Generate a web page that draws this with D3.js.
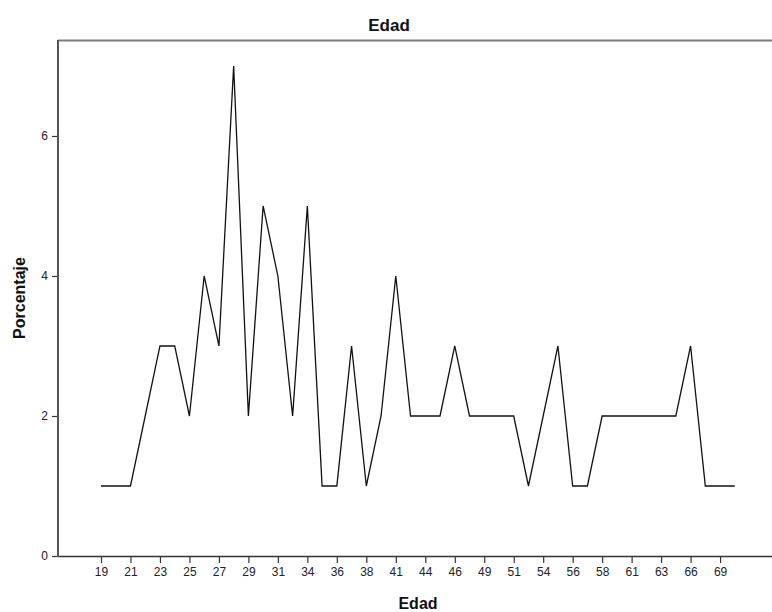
<!DOCTYPE html>
<html>
<head>
<meta charset="utf-8">
<script src="https://cdn.jsdelivr.net/npm/d3@7"></script>
<style>
  html, body { margin: 0; padding: 0; background: #fff; }
  svg { display: block; font-family: "Liberation Sans", Arial, sans-serif; }
</style>
</head>
<body>
<svg id="chart" width="772" height="612"></svg>
<script>
// Ages present in the data (categorical x axis)
const ages = [19,20,21,22,23,24,25,26,27,28,29,30,31,33,34,35,36,37,38,40,41,43,44,45,46,48,49,50,51,53,54,55,56,57,58,60,61,62,63,65,66,68,69,70];
// Percentage for each age
const percents = [1,1,1,2,3,3,2,4,3,7,2,5,4,2,5,1,1,3,1,2,4,2,2,2,3,2,2,2,2,1,2,3,1,1,2,2,2,2,2,2,3,1,1,1];
// Labelled ticks on the x axis
const xTickLabels = [19,21,23,25,27,29,31,34,36,38,41,44,46,49,51,54,56,58,61,63,66,69];
const yTicks = [0,2,4,6];

const svg = d3.select("#chart");
const mLeft = 58, mRight = 772, mTop = 40, mBottom = 556;

const x = d3.scalePoint().domain(ages).range([101, 734.8]);
const y = d3.scaleLinear().domain([0, 7.371]).range([mBottom, mTop]);

// top frame line
svg.append("line")
  .attr("x1", mLeft).attr("x2", mRight).attr("y1", mTop + 0.5).attr("y2", mTop + 0.5)
  .attr("stroke", "#7a7a7a").attr("stroke-width", 2);

// x axis
const xAxis = d3.axisBottom(x)
  .tickValues(xTickLabels)
  .tickSize(7).tickSizeOuter(0).tickPadding(4);
const gx = svg.append("g").attr("transform", `translate(0,${mBottom})`).call(xAxis);
gx.select(".domain").remove();
gx.append("line").attr("x1", mLeft).attr("x2", mRight).attr("y1", 0.5).attr("y2", 0.5)
  .attr("stroke", "#333").attr("stroke-width", 1.3);
gx.selectAll(".tick line").attr("stroke", "#333").attr("stroke-width", 1.2);
gx.selectAll(".tick text").attr("font-size", 12).attr("fill", "#222")
  .attr("font-family", "Liberation Sans, Arial, sans-serif");

// y axis
const yAxis = d3.axisLeft(y).tickValues(yTicks).tickSize(6).tickSizeOuter(0).tickPadding(4);
const gy = svg.append("g").attr("transform", `translate(${mLeft},0)`).call(yAxis);
gy.select(".domain").remove();
gy.append("line").attr("x1", 0).attr("x2", 0).attr("y1", mTop).attr("y2", mBottom + 1)
  .attr("stroke", "#555").attr("stroke-width", 2);
gy.selectAll(".tick line").attr("stroke", "#333").attr("stroke-width", 1.2);
gy.selectAll(".tick text").attr("font-size", 12).attr("fill", "#222")
  .attr("font-family", "Liberation Sans, Arial, sans-serif");

// line
const line = d3.line().x((d, i) => x(ages[i])).y(d => y(d));
svg.append("path")
  .datum(percents)
  .attr("d", line)
  .attr("fill", "none")
  .attr("stroke", "#111")
  .attr("stroke-width", 1.3)
  .attr("stroke-linejoin", "miter");

// title
svg.append("text")
  .attr("x", 389).attr("y", 31)
  .attr("text-anchor", "middle")
  .attr("font-size", 17).attr("font-weight", "bold").attr("fill", "#111")
  .text("Edad");

// x label
svg.append("text")
  .attr("x", 418).attr("y", 609)
  .attr("text-anchor", "middle")
  .attr("font-size", 16).attr("font-weight", "bold").attr("fill", "#111")
  .text("Edad");

// y label
svg.append("text")
  .attr("transform", "translate(25,298) rotate(-90)")
  .attr("text-anchor", "middle")
  .attr("font-size", 16).attr("font-weight", "bold").attr("fill", "#111")
  .text("Porcentaje");
</script>
</body>
</html>
